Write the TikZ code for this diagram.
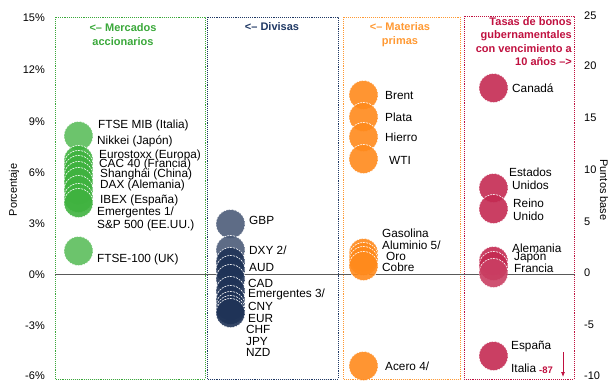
\documentclass[tikz,border=0pt]{standalone}
\usepackage{fontspec}
\setmainfont{Liberation Sans}
\usetikzlibrary{arrows.meta}
\begin{document}
\begin{tikzpicture}[x=1pt,y=-1pt,
  lab/.style={font=\fontsize{11.8}{12.5}\selectfont, inner sep=0pt, anchor=west, text=black},
  tick/.style={font=\fontsize{11}{12}\selectfont, inner sep=0pt, text=black},
  hdr/.style={font=\fontsize{11}{13.5}\selectfont\bfseries, inner sep=0pt, align=center},
  bub/.style={circle, minimum size=29pt, inner sep=0pt, draw=white, dash pattern=on 2pt off 1pt, line width=0.6pt, fill opacity=0.9},
  gb/.style={bub, fill=cgreen},
  nb/.style={bub, fill=cnavy},
  ob/.style={bub, fill=corange},
  rb/.style={bub, fill=cred},
  frame/.style={densely dotted, line width=0.9pt}
]
\definecolor{cgreen}{HTML}{3FB23F}
\definecolor{cgreenbox}{HTML}{3AA83A}
\definecolor{cnavy}{HTML}{1F3357}
\definecolor{cnavybox}{HTML}{1F3864}
\definecolor{corange}{HTML}{FF8A1C}
\definecolor{corangebox}{HTML}{FF9933}
\definecolor{cred}{HTML}{C42A52}
\definecolor{credbox}{HTML}{C0103F}
\useasboundingbox (0,0) rectangle (613,381);

% frames
\draw[frame, cgreenbox] (55,17) rectangle (205,379);
\draw[frame, cnavybox] (207,17) rectangle (338,379);
\draw[frame, corangebox] (343,17) rectangle (460,379);
\draw[frame, credbox] (464,16) rectangle (574,379);

% zero line
\coordinate (z0) at (55,274.5);
\coordinate (z1) at (575,274.5);
\draw[line width=0.8pt, black!65] (z0) -- (z1);

% left axis
\node[tick, anchor=east] (l15) at (45,18) {15\%};
\node[tick, anchor=east] (l12) at (45,70) {12\%};
\node[tick, anchor=east] (l9) at (45,122) {9\%};
\node[tick, anchor=east] (l6) at (45,173) {6\%};
\node[tick, anchor=east] (l3) at (45,224) {3\%};
\node[tick, anchor=east] (l0) at (45,275) {0\%};
\node[tick, anchor=east] (lm3) at (45,326) {-3\%};
\node[tick, anchor=east] (lm6) at (45,376) {-6\%};
\node[tick, rotate=90] (ytl) at (14,190) {Porcentaje};

% right axis
\node[tick, anchor=west] (r25) at (584,16) {25};
\node[tick, anchor=west] (r20) at (584,66) {20};
\node[tick, anchor=west] (r15) at (584,118) {15};
\node[tick, anchor=west] (r10) at (584,170) {10};
\node[tick, anchor=west] (r5) at (584,222) {5};
\node[tick, anchor=west] (r0) at (584,273) {0};
\node[tick, anchor=west] (rm5) at (584,325) {-5};
\node[tick, anchor=west] (rm10) at (584,376) {-10};
\node[tick, rotate=-90] (ytr) at (604,190) {Puntos base};

% headers
\node[hdr, text=cgreenbox] (hg) at (123,34.5) {<-- Mercados\\accionarios};
\node[hdr, text=cnavybox] (hn) at (272,27) {<-- Divisas};
\node[hdr, text=corangebox] (ho) at (400,34.5) {<-- Materias\\primas};
\node[hdr, text=credbox, align=right, anchor=east] (hr) at (572,41.5) {Tasas de bonos\\gubernamentales\\con vencimiento a\\10 años -->};

% green bubbles
\node[gb, fill=cgreen!85!white] (g1) at (78.5,136) {};
\node[gb] (g2) at (78.5,160) {};
\node[gb] (g3) at (78.5,165) {};
\node[gb] (g4) at (78.5,170) {};
\node[gb] (g5) at (78.5,176) {};
\node[gb] (g6) at (78.5,182) {};
\node[gb] (g7) at (78.5,190) {};
\node[gb] (g8) at (78.5,198) {};
\node[gb] (g9) at (78.5,203) {};
\node[gb, fill=cgreen!85!white] (g10) at (78.5,251) {};
\node[lab] (tg1) at (98,125) {FTSE MIB (Italia)};
\node[lab] (tg2) at (97,141) {Nikkei (Japón)};
\node[lab] (tg3) at (99,155) {Eurostoxx (Europa)};
\node[lab] (tg4) at (99,164) {CAC 40 (Francia)};
\node[lab] (tg5) at (100,174) {Shanghái (China)};
\node[lab] (tg6) at (100,185) {DAX (Alemania)};
\node[lab] (tg7) at (100,200) {IBEX (España)};
\node[lab] (tg8) at (97,212) {Emergentes 1/};
\node[lab] (tg9) at (97,225) {S\&P 500 (EE.UU.)};
\node[lab] (tg10) at (97,259) {FTSE-100 (UK)};

% navy bubbles
\node[nb, fill=cnavy!80!white] (n1) at (230.5,224) {};
\node[nb, fill=cnavy!80!white] (n2) at (230.5,250) {};
\node[nb] (n3) at (230.5,262) {};
\node[nb] (n4) at (230.5,270) {};
\node[nb] (n5) at (230.5,279) {};
\node[nb] (n6) at (230.5,291) {};
\node[nb] (n7) at (230.5,300) {};
\node[nb] (n8) at (230.5,306) {};
\node[nb] (n9) at (230.5,310) {};
\node[nb] (n10) at (230.5,313) {};
\node[lab] (tn1) at (249,220) {GBP};
\node[lab] (tn2) at (249,250) {DXY 2/};
\node[lab] (tn3) at (249,267) {AUD};
\node[lab] (tn4) at (248,283) {CAD};
\node[lab] (tn5) at (248,294) {Emergentes 3/};
\node[lab] (tn6) at (248,306) {CNY};
\node[lab] (tn7) at (248,318) {EUR};
\node[lab] (tn8) at (246,329) {CHF};
\node[lab] (tn9) at (246,341) {JPY};
\node[lab] (tn10) at (246,352) {NZD};

% orange bubbles
\node[ob] (o1) at (363.5,95) {};
\node[ob] (o2) at (363.5,117) {};
\node[ob] (o3) at (363.5,137) {};
\node[ob] (o4) at (363.5,159) {};
\node[ob] (o5) at (363.5,253) {};
\node[ob] (o6) at (363.5,257) {};
\node[ob] (o7) at (363.5,261) {};
\node[ob] (o8) at (363.5,266) {};
\node[ob] (o9) at (363.5,366) {};
\node[lab] (to1) at (385,95) {Brent};
\node[lab] (to2) at (385,117) {Plata};
\node[lab] (to3) at (385,137) {Hierro};
\node[lab] (to4) at (389,160) {WTI};
\node[lab] (to5) at (382,233) {Gasolina};
\node[lab] (to6) at (382,245) {Aluminio 5/};
\node[lab] (to7) at (386,256) {Oro};
\node[lab] (to8) at (382,267) {Cobre};
\node[lab] (to9) at (385,366) {Acero 4/};

% red bubbles
\node[rb] (b1) at (493.5,88) {};
\node[rb] (b2) at (493.5,188) {};
\node[rb] (b3) at (493.5,209) {};
\node[rb] (b4) at (493.5,261) {};
\node[rb] (b5) at (493.5,266) {};
\node[rb, fill=cred!90!white] (b6) at (493.5,273) {};
\node[rb] (b7) at (493.5,356) {};
\node[lab] (tb1) at (512,88) {Canadá};
\node[lab, align=center, anchor=north west] (tb2) at (509,168) {Estados\\Unidos};
\node[lab, align=left, anchor=north west] (tb3) at (513,199) {Reino\\Unido};
\node[lab] (tb4) at (512,248) {Alemania};
\node[lab] (tb5) at (514,257) {Japón};
\node[lab] (tb6) at (514,268) {Francia};
\node[lab] (tb7) at (511,346) {España};
\node[lab] (tb8) at (511,368) {Italia};
\node[lab, text=credbox, font=\fontsize{9.5}{10}\selectfont\bfseries] (tb9) at (539,370) {-87};
\coordinate (a0) at (563,352);
\coordinate (a1) at (563,377);
\draw[credbox, line width=0.8pt, -{Latex[length=5pt,width=4pt]}] (a0) -- (a1);
\end{tikzpicture}
\end{document}
